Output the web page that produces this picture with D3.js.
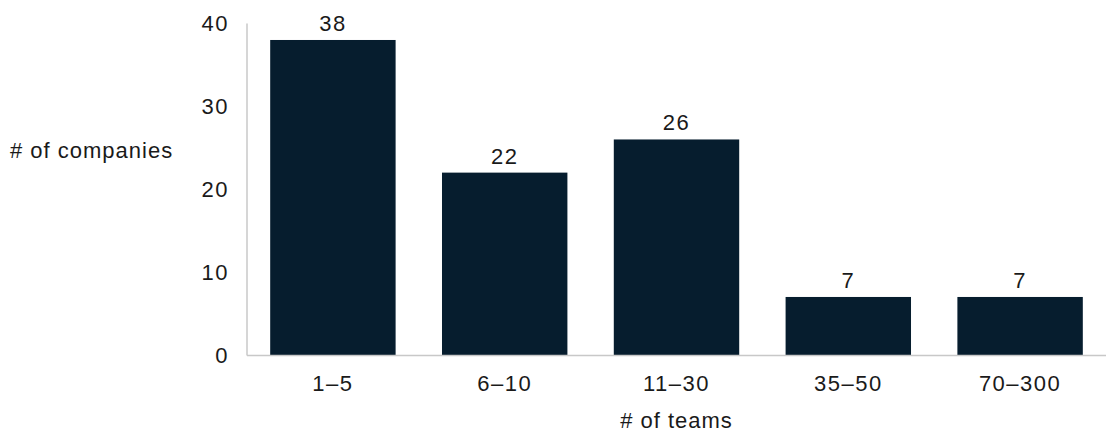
<!DOCTYPE html>
<html><head><meta charset="utf-8">
<script src="https://cdn.jsdelivr.net/npm/d3@7"></script>
<style>
body{margin:0;background:#fff;}
text{font-family:"Liberation Sans",Arial,sans-serif;fill:#1a1a1a;}
</style></head><body>
<svg id="c" width="1106" height="432"></svg>
<script>
const categories = ["1–5","6–10","11–30","35–50","70–300"];
const values = [38,22,26,7,7];
const yTicks = [0,10,20,30,40];
const yLabel = "# of companies";
const xLabel = "# of teams";

const svg = d3.select("#c");
const x0 = 247, x1 = 1106, yTop = 23.4, yBase = 355;
const x = d3.scaleBand().domain(categories).range([x0, x1]).paddingInner(0.27).paddingOuter(0.135);
const y = d3.scaleLinear().domain([0,40]).range([yBase, yTop]);
const fs = 22, ls = "1.5px";

svg.selectAll("rect.bar").data(categories).join("rect")
  .attr("x", d => x(d)).attr("width", x.bandwidth())
  .attr("y", (d,i) => y(values[i])).attr("height", (d,i) => y(0) - y(values[i]))
  .attr("fill", "#061d2e");

svg.append("line").attr("x1", x0).attr("x2", x0).attr("y1", y(40)).attr("y2", yBase + 0.5)
  .attr("stroke", "#c8c8c8").attr("stroke-width", 1.5);
svg.append("line").attr("x1", x0).attr("x2", x1).attr("y1", yBase + 0.5).attr("y2", yBase + 0.5)
  .attr("stroke", "#c8c8c8").attr("stroke-width", 1.5);

svg.selectAll("text.yt").data(yTicks).join("text")
  .attr("x", 229).attr("y", d => y(d) + 8)
  .attr("text-anchor", "end").attr("font-size", fs).style("letter-spacing", ls)
  .text(d => d);

svg.selectAll("text.vl").data(categories).join("text")
  .attr("x", d => x(d) + x.bandwidth()/2).attr("y", (d,i) => y(values[i]) - 9)
  .attr("text-anchor", "middle").attr("font-size", fs).style("letter-spacing", ls)
  .text((d,i) => values[i]);

svg.selectAll("text.cl").data(categories).join("text")
  .attr("x", d => x(d) + x.bandwidth()/2).attr("y", 391)
  .attr("text-anchor", "middle").attr("font-size", fs).style("letter-spacing", ls)
  .text(d => d);

svg.append("text").attr("x", 10).attr("y", 158).attr("font-size", fs).style("letter-spacing", "1px").text(yLabel);
svg.append("text").attr("x", (x0 + x1)/2).attr("y", 428).attr("text-anchor", "middle")
  .attr("font-size", fs).style("letter-spacing", "1px").text(xLabel);
</script></body></html>
